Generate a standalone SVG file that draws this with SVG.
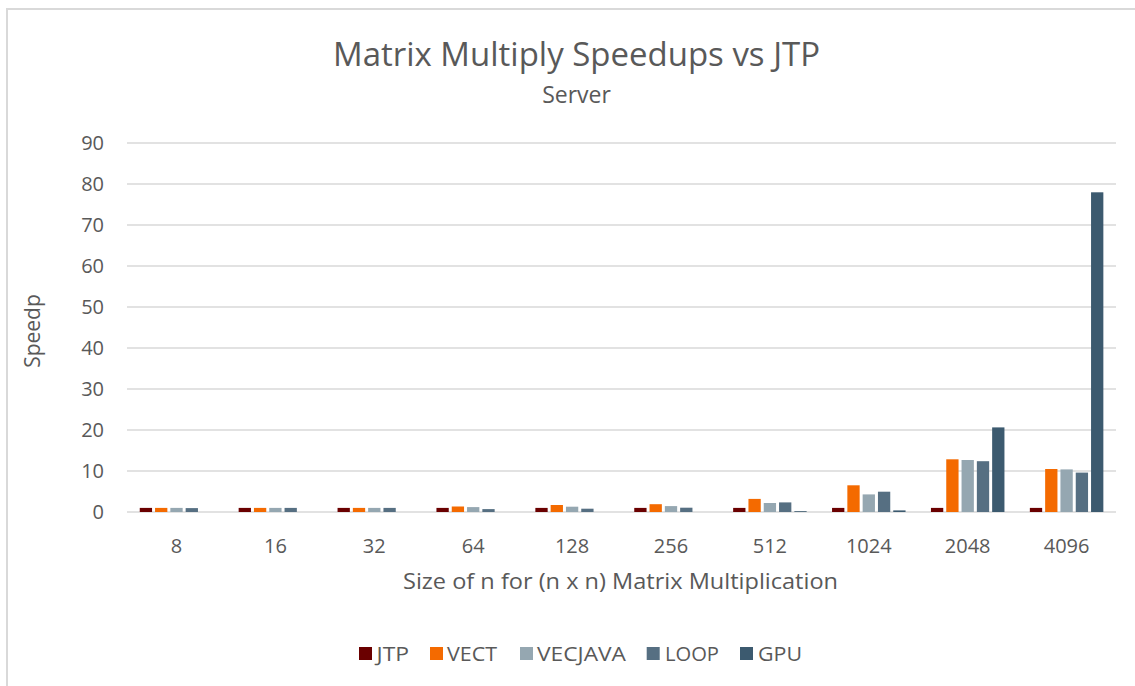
<svg xmlns="http://www.w3.org/2000/svg" width="1135" height="686" viewBox="0 0 1135 686">
<style>
text{font-family:"Open Sans","Liberation Sans",sans-serif;fill:#595959}
.grid{stroke:#d9d9d9;stroke-width:1.5}
.ylab{font-size:20px;text-anchor:end}
.xlab{font-size:20px;text-anchor:middle}
.leg{font-size:20px}
.jtp{fill:#6a0000}
.vect{fill:#f46a00}
.vecjava{fill:#95a7b1}
.loop{fill:#566f82}
.gpu{fill:#3c5a6f}
</style>
<rect x="0" y="0" width="1135" height="686" fill="#ffffff"/>
<rect x="7" y="9" width="1200" height="800" fill="#ffffff" stroke="#d9d9d9" stroke-width="2"/>
<g id="title">
<text x="576.5" y="66" font-size="32" text-anchor="middle" textLength="487" lengthAdjust="spacingAndGlyphs">Matrix Multiply Speedups vs JTP</text>
<text x="576.5" y="103" font-size="23" text-anchor="middle">Server</text>
</g>
<g id="gridlines">
<line class="grid" x1="127" y1="143" x2="1116" y2="143"/>
<line class="grid" x1="127" y1="184" x2="1116" y2="184"/>
<line class="grid" x1="127" y1="225" x2="1116" y2="225"/>
<line class="grid" x1="127" y1="266" x2="1116" y2="266"/>
<line class="grid" x1="127" y1="307" x2="1116" y2="307"/>
<line class="grid" x1="127" y1="348" x2="1116" y2="348"/>
<line class="grid" x1="127" y1="389" x2="1116" y2="389"/>
<line class="grid" x1="127" y1="430" x2="1116" y2="430"/>
<line class="grid" x1="127" y1="471" x2="1116" y2="471"/>
<line class="grid" x1="127" y1="512" x2="1116" y2="512"/>
</g>
<g id="y-axis">
<text class="ylab" x="104" y="150">90</text>
<text class="ylab" x="104" y="191">80</text>
<text class="ylab" x="104" y="232">70</text>
<text class="ylab" x="104" y="273">60</text>
<text class="ylab" x="104" y="314">50</text>
<text class="ylab" x="104" y="355">40</text>
<text class="ylab" x="104" y="396">30</text>
<text class="ylab" x="104" y="437">20</text>
<text class="ylab" x="104" y="478">10</text>
<text class="ylab" x="104" y="519">0</text>
<text font-size="21" text-anchor="middle" transform="translate(40,331) rotate(-90)">Speedp</text>
</g>
<g id="x-axis">
<text class="xlab" x="176.5" y="553">8</text>
<text class="xlab" x="275.4" y="553">16</text>
<text class="xlab" x="374.3" y="553">32</text>
<text class="xlab" x="473.2" y="553">64</text>
<text class="xlab" x="572.1" y="553">128</text>
<text class="xlab" x="671" y="553">256</text>
<text class="xlab" x="769.9" y="553">512</text>
<text class="xlab" x="868.8" y="553">1024</text>
<text class="xlab" x="967.7" y="553">2048</text>
<text class="xlab" x="1066.6" y="553">4096</text>
<text x="620.5" y="589" font-size="21" text-anchor="middle" textLength="435" lengthAdjust="spacingAndGlyphs">Size of n for (n x n) Matrix Multiplication</text>
</g>
<g id="series-jtp" class="jtp">
<rect x="139.75" y="507.9" width="12.3" height="4.1"/>
<rect x="238.65" y="507.9" width="12.3" height="4.1"/>
<rect x="337.55" y="507.9" width="12.3" height="4.1"/>
<rect x="436.45" y="507.9" width="12.3" height="4.1"/>
<rect x="535.35" y="507.9" width="12.3" height="4.1"/>
<rect x="634.25" y="507.9" width="12.3" height="4.1"/>
<rect x="733.15" y="507.9" width="12.3" height="4.1"/>
<rect x="832.05" y="507.9" width="12.3" height="4.1"/>
<rect x="930.95" y="507.9" width="12.3" height="4.1"/>
<rect x="1029.85" y="507.9" width="12.3" height="4.1"/>
</g>
<g id="series-vect" class="vect">
<rect x="155.05" y="507.9" width="12.3" height="4.1"/>
<rect x="253.95" y="507.9" width="12.3" height="4.1"/>
<rect x="352.85" y="507.9" width="12.3" height="4.1"/>
<rect x="451.75" y="506.5" width="12.3" height="5.5"/>
<rect x="550.65" y="505" width="12.3" height="7"/>
<rect x="649.55" y="504.2" width="12.3" height="7.8"/>
<rect x="748.45" y="498.9" width="12.3" height="13.1"/>
<rect x="847.35" y="485.3" width="12.3" height="26.7"/>
<rect x="946.25" y="459.3" width="12.3" height="52.7"/>
<rect x="1045.15" y="469" width="12.3" height="43"/>
</g>
<g id="series-vecjava" class="vecjava">
<rect x="170.35" y="507.9" width="12.3" height="4.1"/>
<rect x="269.25" y="507.9" width="12.3" height="4.1"/>
<rect x="368.15" y="507.9" width="12.3" height="4.1"/>
<rect x="467.05" y="507.1" width="12.3" height="4.9"/>
<rect x="565.95" y="506.7" width="12.3" height="5.3"/>
<rect x="664.85" y="506.1" width="12.3" height="5.9"/>
<rect x="763.75" y="503" width="12.3" height="9"/>
<rect x="862.65" y="494.4" width="12.3" height="17.6"/>
<rect x="961.55" y="460" width="12.3" height="52"/>
<rect x="1060.45" y="469.4" width="12.3" height="42.6"/>
</g>
<g id="series-loop" class="loop">
<rect x="185.65" y="508.1" width="12.3" height="3.9"/>
<rect x="284.55" y="507.9" width="12.3" height="4.1"/>
<rect x="383.45" y="507.9" width="12.3" height="4.1"/>
<rect x="482.35" y="509.1" width="12.3" height="2.9"/>
<rect x="581.25" y="508.7" width="12.3" height="3.3"/>
<rect x="680.15" y="507.7" width="12.3" height="4.3"/>
<rect x="779.05" y="502.4" width="12.3" height="9.6"/>
<rect x="877.95" y="491.7" width="12.3" height="20.3"/>
<rect x="976.85" y="461.2" width="12.3" height="50.8"/>
<rect x="1075.75" y="472.6" width="12.3" height="39.4"/>
</g>
<g id="series-gpu" class="gpu">
<rect x="794.35" y="511.2" width="12.3" height="0.8"/>
<rect x="893.25" y="510.4" width="12.3" height="1.6"/>
<rect x="992.15" y="427.4" width="12.3" height="84.6"/>
<rect x="1091.05" y="192.3" width="12.3" height="319.7"/>
</g>
<g id="legend">
<rect class="jtp" x="359" y="647" width="13" height="13"/>
<text class="leg" x="376.5" y="660.5" textLength="32.5" lengthAdjust="spacingAndGlyphs">JTP</text>
<rect class="vect" x="430" y="647" width="13" height="13"/>
<text class="leg" x="447" y="660.5" textLength="50" lengthAdjust="spacingAndGlyphs">VECT</text>
<rect class="vecjava" x="520" y="647" width="13" height="13"/>
<text class="leg" x="537" y="660.5" textLength="89" lengthAdjust="spacingAndGlyphs">VECJAVA</text>
<rect class="loop" x="646.7" y="647" width="13" height="13"/>
<text class="leg" x="665" y="660.5" textLength="54" lengthAdjust="spacingAndGlyphs">LOOP</text>
<rect class="gpu" x="740" y="647" width="13" height="13"/>
<text class="leg" x="758" y="660.5" textLength="44" lengthAdjust="spacingAndGlyphs">GPU</text>
</g>
</svg>
